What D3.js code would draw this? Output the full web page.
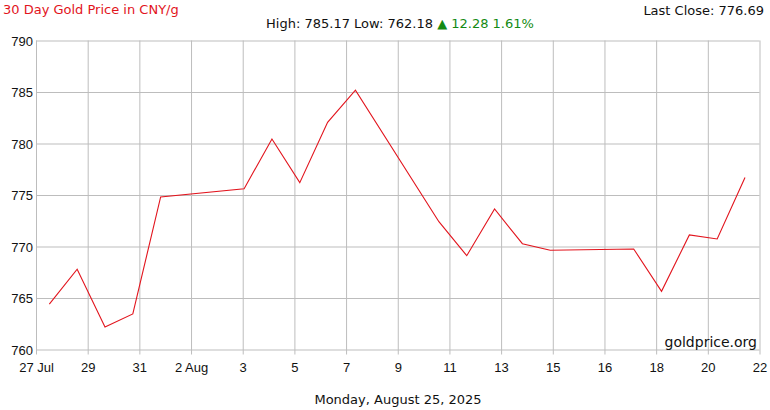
<!DOCTYPE html>
<html>
<head>
<meta charset="utf-8">
<script src="https://cdn.jsdelivr.net/npm/d3@7"></script>
<style>
  body { margin: 0; background: #fff; }
  svg { display: block; font-family: 'DejaVu Sans', Verdana, sans-serif; }
  .grid line { stroke: #bdbdbd; stroke-width: 1; }
  .grid path { display: none; }
  .axis text { font-size: 13px; fill: #111; }
</style>
</head>
<body>
<svg id="chart" width="770" height="410"></svg>
<script>
// daily closes (CNY per gram)
const dates = ['2025-07-27', '2025-07-28', '2025-07-29', '2025-07-30', '2025-07-31',
  '2025-08-03', '2025-08-04', '2025-08-05', '2025-08-06', '2025-08-07',
  '2025-08-10', '2025-08-11', '2025-08-12', '2025-08-13', '2025-08-14',
  '2025-08-17', '2025-08-18', '2025-08-19', '2025-08-20', '2025-08-21'];
const prices = [764.41, 767.79, 762.18, 763.45, 774.81,
  775.61, 780.44, 776.20, 782.06, 785.17,
  772.41, 769.11, 773.64, 770.27, 769.63,
  769.76, 765.65, 771.12, 770.73, 776.69];
const xTickLabels = ['27 Jul', '29', '31', '2 Aug', '3', '5', '7', '9', '11', '13', '15', '16', '18', '20', '22'];
const yTicks = [760, 765, 770, 775, 780, 785, 790];

const title = '30 Day Gold Price in CNY/g';
const dateLine = 'Monday, August 25, 2025';

const svg = d3.select('#chart');
const plotLeft = 36, plotRight = 759.5, plotTop = 40.5, plotBottom = 349.5;

const parse = d3.timeParse('%Y-%m-%dT%H:%M');
const data = dates.map((d, i) => ({ date: parse(d + 'T11:30'), value: prices[i] }));

const x = d3.scaleTime()
  .domain([new Date(2025, 6, 27), new Date(2025, 7, 22)])
  .range([plotLeft, plotRight]);
const y = d3.scaleLinear()
  .domain([760, 790])
  .range([plotBottom, plotTop]);

// equally spaced x ticks across the domain, labelled with the rounded day
const t0 = x.domain()[0].getTime(), t1 = x.domain()[1].getTime();
const xTickValues = xTickLabels.map((_, i) => new Date(t0 + (t1 - t0) * i / (xTickLabels.length - 1)));

svg.append('g')
  .attr('class', 'grid axis')
  .attr('transform', 'translate(0,' + plotTop + ')')
  .call(d3.axisBottom(x)
    .tickValues(xTickValues)
    .tickSize(plotBottom - plotTop + 5)
    .tickSizeOuter(0)
    .tickFormat((d, i) => xTickLabels[i]))
  .call(g => g.selectAll('text').attr('dy', '1.1em'));

svg.append('g')
  .attr('class', 'grid axis')
  .attr('transform', 'translate(' + plotLeft + ',0)')
  .call(d3.axisRight(y)
    .tickValues(yTicks)
    .tickSize(plotRight - plotLeft)
    .tickSizeOuter(0)
    .tickFormat(d3.format('d')))
  .call(g => g.selectAll('text')
    .attr('x', -3)
    .attr('text-anchor', 'end')
    .attr('dy', '0.35em')
    .attr('font-size', '14px'));

const line = d3.line()
  .x(d => x(d.date))
  .y(d => y(d.value));

svg.append('path')
  .datum(data)
  .attr('fill', 'none')
  .attr('stroke', '#e2141d')
  .attr('stroke-width', 1.1)
  .attr('d', line);

// header texts
svg.append('text')
  .attr('x', 3).attr('y', 14)
  .attr('font-size', '13px')
  .attr('fill', '#e2141d')
  .text(title);

const last = prices[prices.length - 1];
const hi = d3.max(prices), lo = d3.min(prices);
const change = last - prices[0];

svg.append('text')
  .attr('x', 764).attr('y', 15)
  .attr('text-anchor', 'end')
  .attr('font-size', '13px')
  .attr('fill', '#111')
  .text('Last Close: ' + last.toFixed(2));

const stats = svg.append('text')
  .attr('x', 400).attr('y', 28)
  .attr('text-anchor', 'middle')
  .attr('font-size', '13px')
  .attr('fill', '#111');
stats.append('tspan').text('High: ' + hi.toFixed(2) + ' Low: ' + lo.toFixed(2) + ' ');
stats.append('tspan')
  .attr('fill', '#138a13')
  .text('\u25B2 ' + change.toFixed(2) + ' ' + (change / prices[0] * 100).toFixed(2) + '%');

svg.append('text')
  .attr('x', 757).attr('y', 347)
  .attr('text-anchor', 'end')
  .attr('font-size', '14px')
  .attr('fill', '#111')
  .text('goldprice.org');

svg.append('text')
  .attr('x', 398).attr('y', 404)
  .attr('text-anchor', 'middle')
  .attr('font-size', '13px')
  .attr('fill', '#111')
  .text(dateLine);
</script>
</body>
</html>
